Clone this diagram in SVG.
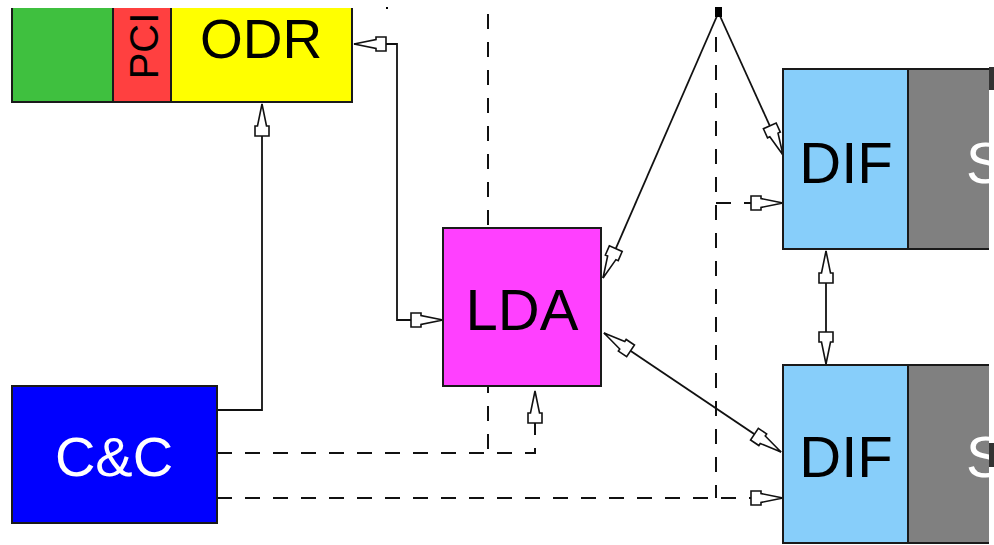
<svg xmlns="http://www.w3.org/2000/svg" width="994" height="545" viewBox="0 0 994 545">
<style>
  .box { stroke: #1a1a1a; stroke-width: 2; }
  .lbl { font-family: "Liberation Sans", Arial, sans-serif; text-anchor: middle; }
  .solid { fill: none; stroke: #111; stroke-width: 1.8; }
  .dash { fill: none; stroke: #111; stroke-width: 2; stroke-dasharray: 15 13; }
</style>
<defs>
  <marker id="ah" markerUnits="userSpaceOnUse" markerWidth="40" markerHeight="20" viewBox="-34 -10 36 20" refX="0" refY="0" orient="auto-start-reverse" overflow="visible">
    <path d="M0,0 L-22,-4.5 L-22,-7 L-32,-7 L-32,7 L-22,7 L-22,4.5 Z" fill="#fff" stroke="#111" stroke-width="1.6" stroke-dasharray="none" stroke-linejoin="miter"/>
  </marker>
  <clipPath id="clipR"><rect x="0" y="0" width="989" height="545"/></clipPath>
</defs>
<rect width="994" height="545" fill="#fff"/>

<g id="connectors">
  <path class="solid" d="M217,410 H262 V104" marker-end="url(#ah)"/>
  <path class="solid" d="M354,44 H397 V320 H443" marker-start="url(#ah)" marker-end="url(#ah)"/>
  <path class="dash" d="M488,14 V453"/>
  <path class="dash" d="M217,453 H535 V391" marker-end="url(#ah)"/>
  <path class="dash" d="M716,37 V498"/>
  <path class="dash" d="M217,498 H783" marker-end="url(#ah)"/>
  <path class="dash" d="M716,203 H783" marker-end="url(#ah)"/>
  <path class="solid" d="M717,16 L603,278" marker-end="url(#ah)"/>
  <path class="solid" d="M720,16 L783,155" marker-end="url(#ah)"/>
  <path class="solid" d="M604,333 L781,452" marker-start="url(#ah)" marker-end="url(#ah)"/>
  <path class="solid" d="M826,251 V364" marker-start="url(#ah)" marker-end="url(#ah)"/>
  <rect x="715" y="7" width="7" height="10" fill="#000"/>
  <rect x="386" y="7" width="2" height="2" fill="#000"/>
</g>

<g id="top-left">
  <rect x="12" y="8" width="101" height="94" fill="#3fc03f"/>
  <rect x="113" y="8" width="58" height="94" fill="#ff4040"/>
  <rect x="171" y="8" width="181" height="94" fill="#ffff00"/>
  <path d="M12,8 V102 H352 V8 M113,8 V102 M171,8 V102" fill="none" stroke="#1a1a1a" stroke-width="2"/>
  <text class="lbl" transform="translate(158,46) rotate(-90)" font-size="40" fill="#000">PCI</text>
  <text class="lbl" x="261" y="58" font-size="55" fill="#000">ODR</text>
</g>

<g id="LDA">
  <rect class="box" x="443" y="228" width="158" height="158" fill="#ff40ff"/>
  <text class="lbl" x="522" y="330" font-size="58" fill="#000">LDA</text>
</g>

<g id="CC">
  <rect class="box" x="12" y="386" width="205" height="137" fill="#0000ff"/>
  <text class="lbl" x="114" y="476" font-size="56" fill="#fff">C&amp;C</text>
</g>

<g id="DIF-upper">
  <rect class="box" x="908" y="69" width="90" height="180" fill="#808080"/>
  <rect class="box" x="783" y="69" width="125" height="180" fill="#87cefa"/>
  <text class="lbl" x="846" y="183" font-size="58" fill="#000">DIF</text>
  <text x="966" y="183" font-size="58" fill="#fff" font-family="Liberation Sans, Arial, sans-serif" clip-path="url(#clipR)">S</text>
</g>

<g id="DIF-lower">
  <rect class="box" x="908" y="365" width="90" height="178" fill="#808080"/>
  <rect class="box" x="783" y="365" width="125" height="178" fill="#87cefa"/>
  <text class="lbl" x="846" y="477" font-size="58" fill="#000">DIF</text>
  <text x="966" y="477" font-size="58" fill="#fff" font-family="Liberation Sans, Arial, sans-serif" clip-path="url(#clipR)">S</text>
</g>

<g id="right-edge">
  <rect x="989" y="60" width="5" height="485" fill="#fff"/>
  <rect x="989" y="67" width="5" height="23" fill="#333"/>
  <rect x="989" y="443" width="5" height="24" fill="#333"/>
</g>
</svg>
